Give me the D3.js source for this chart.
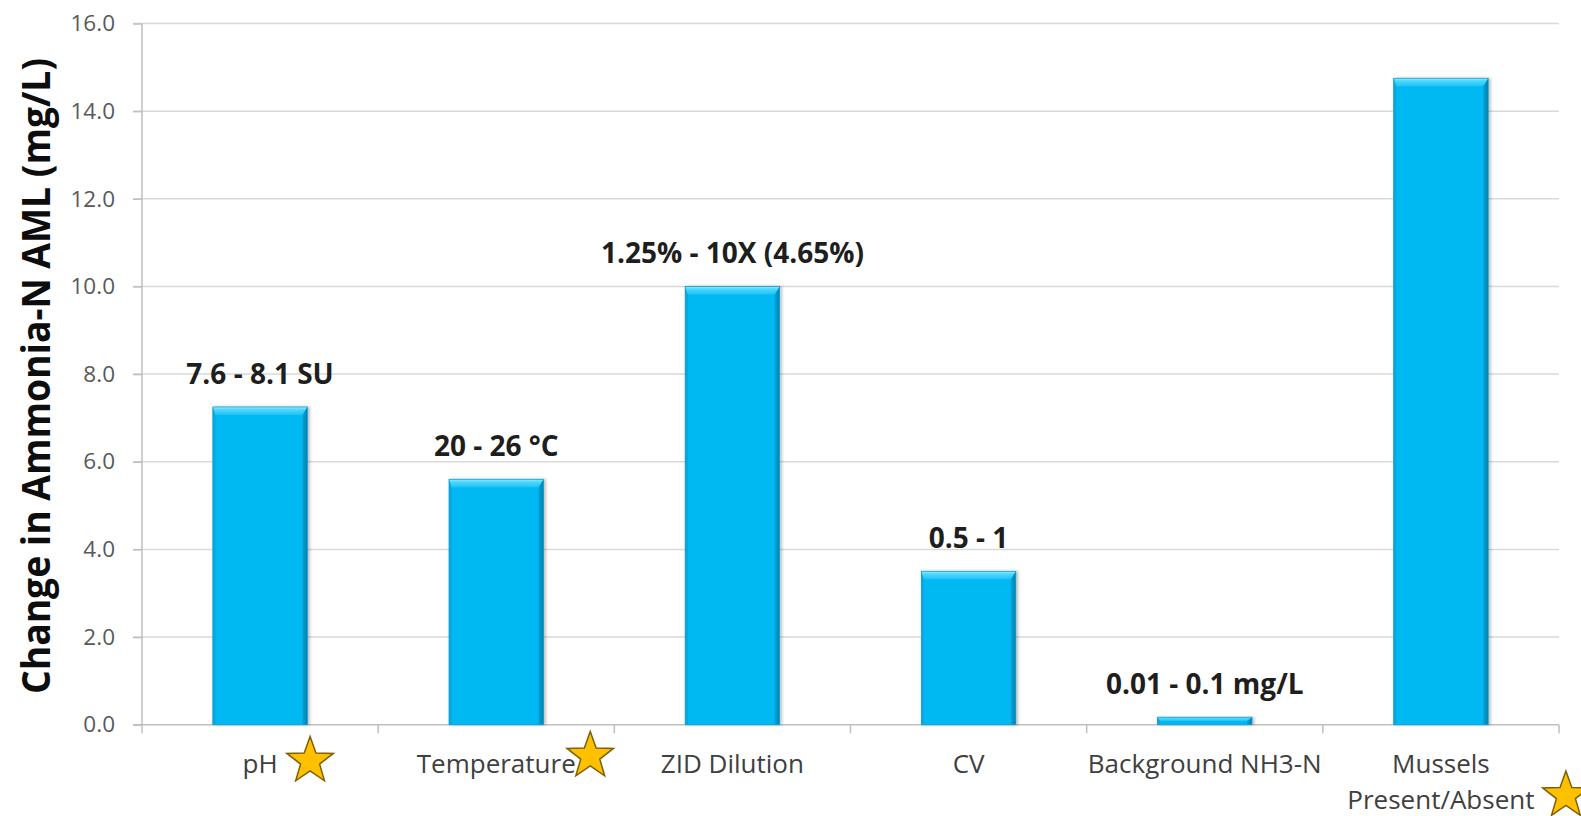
<!DOCTYPE html>
<html>
<head>
<meta charset="utf-8">
<script src="https://cdn.jsdelivr.net/npm/d3@7"></script>
<style>
  html, body { margin: 0; padding: 0; background: #ffffff; }
  svg { display: block; }
</style>
</head>
<body>
<svg id="chart" width="1581" height="816"></svg>
<script>
// Sensitivity of the ammonia-N AML to each input parameter
const categories = ["pH", "Temperature", "ZID Dilution", "CV", "Background NH3-N", "Mussels Present/Absent"];
const categoryLines = [["pH"], ["Temperature"], ["ZID Dilution"], ["CV"], ["Background NH3-N"], ["Mussels", "Present/Absent"]];
const amlChange = [7.25, 5.6, 10.0, 3.5, 0.17, 14.75];
const rangeLabels = ["7.6 - 8.1 SU", "20 - 26 °C", "1.25% - 10X (4.65%)", "0.5 - 1", "0.01 - 0.1 mg/L", ""];
const starred = [true, true, false, false, false, true];
const yTicks = [0, 2, 4, 6, 8, 10, 12, 14, 16];
const yTitle = "Change in Ammonia-N AML (mg/L)";

(function draw() {
  const svg = d3.select("#chart");
  const plotLeft = 142, plotRight = 1559, plotTop = 23.5, plotBottom = 724.7;

  const x = d3.scaleBand().domain(categories).range([plotLeft, plotRight]).paddingInner(0.6).paddingOuter(0.3);
  const y = d3.scaleLinear().domain([0, 16]).range([plotBottom, plotTop]);

  // horizontal gridlines
  svg.append("g").selectAll("line").data(yTicks.filter(d => d > 0)).join("line")
    .attr("x1", plotLeft - 9).attr("x2", plotRight)
    .attr("y1", d => y(d)).attr("y2", d => y(d))
    .attr("stroke", "#d9d9d9").attr("stroke-width", 1.5);

  // y axis with tick labels
  const yAxis = svg.append("g").attr("transform", `translate(${plotLeft},0)`)
    .call(d3.axisLeft(y).tickValues(yTicks).tickSize(9).tickSizeOuter(0).tickPadding(18).tickFormat(d3.format(".1f")));
  yAxis.select(".domain").remove();
  yAxis.selectAll(".tick line").attr("stroke", "#bfbfbf").attr("stroke-width", 1.5);
  yAxis.selectAll(".tick text").attr("fill", "#595959")
    .style("font-family", "'Open Sans', sans-serif").style("font-size", "22.5px");

  // axis lines
  svg.append("line").attr("x1", plotLeft).attr("x2", plotLeft).attr("y1", plotTop).attr("y2", plotBottom + 8.5)
    .attr("stroke", "#bfbfbf").attr("stroke-width", 1.5);
  svg.append("line").attr("x1", plotLeft - 9).attr("x2", plotRight).attr("y1", plotBottom).attr("y2", plotBottom)
    .attr("stroke", "#bfbfbf").attr("stroke-width", 1.5);

  // category boundary ticks
  const bounds = d3.range(1, categories.length + 1).map(i => plotLeft + i * x.step());
  svg.append("g").selectAll("line").data(bounds).join("line")
    .attr("x1", d => d).attr("x2", d => d).attr("y1", plotBottom).attr("y2", plotBottom + 8.5)
    .attr("stroke", "#bfbfbf").attr("stroke-width", 1.5);

  // gradients for the bevelled bars
  const defs = svg.append("defs");
  const topGrad = defs.append("linearGradient").attr("id", "bevelTop").attr("x1", 0).attr("y1", 0).attr("x2", 0).attr("y2", 1);
  topGrad.append("stop").attr("offset", "0%").attr("stop-color", "#a8eeff");
  topGrad.append("stop").attr("offset", "30%").attr("stop-color", "#52d8ff");
  topGrad.append("stop").attr("offset", "100%").attr("stop-color", "#1cc3f7");
  const rightGrad = defs.append("linearGradient").attr("id", "bevelRight").attr("x1", 0).attr("y1", 0).attr("x2", 1).attr("y2", 0);
  rightGrad.append("stop").attr("offset", "0%").attr("stop-color", "#04a4da");
  rightGrad.append("stop").attr("offset", "100%").attr("stop-color", "#067fae");
  const shadow = defs.append("filter").attr("id", "barShadow").attr("x", "-10%").attr("y", "-10%").attr("width", "130%").attr("height", "120%");
  shadow.append("feGaussianBlur").attr("in", "SourceAlpha").attr("stdDeviation", 1.5).attr("result", "b");
  shadow.append("feOffset").attr("in", "b").attr("dx", 2).attr("dy", 0).attr("result", "o");
  shadow.append("feComponentTransfer").attr("in", "o").attr("result", "s")
    .append("feFuncA").attr("type", "linear").attr("slope", 0.25);
  const merge = shadow.append("feMerge");
  merge.append("feMergeNode").attr("in", "s");
  merge.append("feMergeNode").attr("in", "SourceGraphic");

  const bars = svg.append("g").selectAll("g").data(categories).join("g")
    .attr("filter", "url(#barShadow)");

  bars.each(function(c, i) {
    const g = d3.select(this);
    const x0 = x(c), w = x.bandwidth();
    const y0 = y(amlChange[i]), h = y(0) - y0;
    const b = Math.min(8, h / 2);
    const s = Math.min(5, w / 2);
    g.append("rect").attr("x", x0).attr("y", y0).attr("width", w).attr("height", h).attr("fill", "#00b8f2");
    // right edge
    g.append("path").attr("d", `M${x0 + w},${y0} L${x0 + w - s},${y0 + b} L${x0 + w - s},${y0 + h} L${x0 + w},${y0 + h} Z`)
      .attr("fill", "url(#bevelRight)");
    // left edge
    g.append("path").attr("d", `M${x0},${y0} L${x0 + 2.5},${y0 + b} L${x0 + 2.5},${y0 + h} L${x0},${y0 + h} Z`)
      .attr("fill", "#0aa6dc");
    // top bevel
    g.append("path").attr("d", `M${x0},${y0} L${x0 + w},${y0} L${x0 + w - s},${y0 + b} L${x0 + 2.5},${y0 + b} Z`)
      .attr("fill", "url(#bevelTop)");
    g.append("rect").attr("x", x0).attr("y", y0).attr("width", w).attr("height", h)
      .attr("fill", "none").attr("stroke", "#0a9fd3").attr("stroke-width", 0.8);
  });

  // value range labels above the bars
  svg.append("g").selectAll("text").data(categories).join("text")
    .attr("x", c => x(c) + x.bandwidth() / 2)
    .attr("y", (c, i) => y(amlChange[i]) - 23)
    .attr("text-anchor", "middle")
    .attr("fill", "#1e1e1e")
    .style("font-family", "'Open Sans', sans-serif").style("font-weight", 700).style("font-size", "28px")
    .text((c, i) => rangeLabels[i]);

  // category labels
  const catText = svg.append("g").selectAll("text").data(categories).join("text")
    .attr("text-anchor", "middle")
    .attr("fill", "#404040")
    .style("font-family", "'Open Sans', sans-serif").style("font-size", "26px");
  catText.each(function(c, i) {
    const t = d3.select(this);
    const cx = x(c) + x.bandwidth() / 2;
    categoryLines[i].forEach((line, k) => {
      t.append("tspan").attr("x", cx).attr("y", 773 + k * 36).text(line);
    });
  });

  // stars flagging the key parameters
  const starOffsets = [[50, 761], [94, 756], null, null, null, [125, 795.5]];
  function starPath(cx, cy, R, r) {
    const pts = d3.range(10).map(k => {
      const a = -Math.PI / 2 + k * Math.PI / 5;
      const rad = k % 2 === 0 ? R : r;
      return [cx + rad * Math.cos(a), cy + rad * Math.sin(a)];
    });
    return "M" + pts.map(p => p.join(",")).join("L") + "Z";
  }
  svg.append("g").selectAll("path").data(categories.filter((c, i) => starred[i])).join("path")
    .attr("d", c => {
      const i = categories.indexOf(c);
      const cx = x(c) + x.bandwidth() / 2 + starOffsets[i][0];
      return starPath(cx, starOffsets[i][1], 24.5, 10);
    })
    .attr("fill", "#ffc000").attr("stroke", "#7f6000").attr("stroke-width", 1.5).attr("stroke-linejoin", "miter");

  // y axis title
  svg.append("text")
    .attr("transform", "translate(50,376) rotate(-90)")
    .attr("text-anchor", "middle")
    .attr("fill", "#0d0d0d")
    .attr("textLength", 636).attr("lengthAdjust", "spacingAndGlyphs")
    .style("font-family", "'Open Sans', sans-serif").style("font-weight", 700).style("font-size", "40px")
    .text(yTitle);
})();
</script>
</body>
</html>
